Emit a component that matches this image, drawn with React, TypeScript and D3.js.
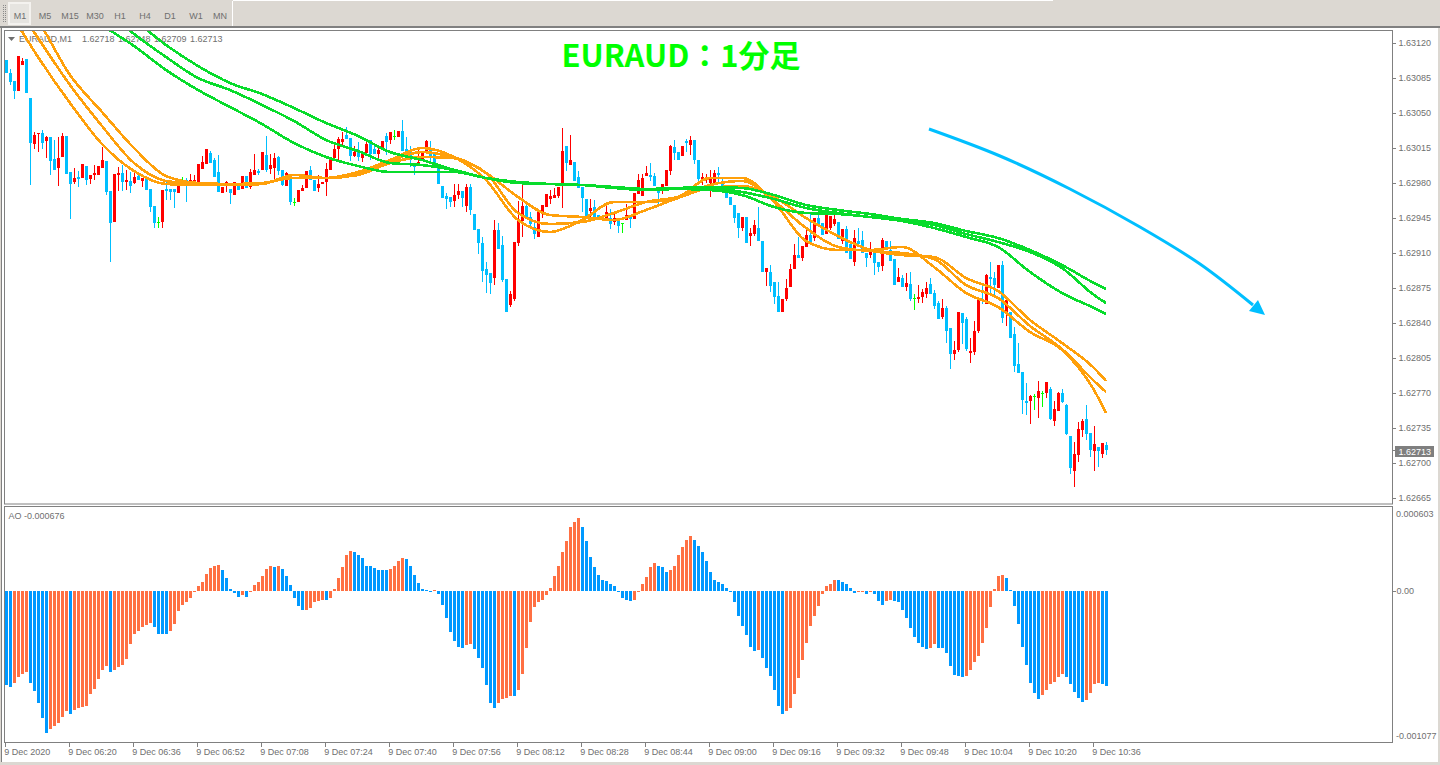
import React from "react";
import * as d3 from "d3";

// Prices are stored in points above 1.62000 (1 point = 0.00001)
const BASE = 1.62;
const POINT = 0.00001;

// [open, high, low, close] for each one-minute bar
const candles: number[][] = [
[1103,1103,1090,1090],[1090,1094,1078,1081],[1082,1082,1064,1072],[1072,1107,1072,1107],[1098,1105,1098,1102],[1104,1104,1070,1070],[1065,1065,978,1020],[1019,1031,1014,1028],
[1029,1030,1011,1030],[1030,1033,1014,1020],[1022,1027,1005,1026],[1026,1026,988,1002],[1004,1023,993,993],[995,1026,977,1005],[1006,1030,1006,1027],[1027,1027,989,989],
[991,991,944,979],[981,995,979,985],[986,992,976,984],[985,999,985,999],[997,997,978,983],[984,988,979,988],[988,998,983,990],[988,997,988,997],
[995,1016,995,1003],[1002,1002,968,971],[972,972,901,940],[941,989,941,989],[988,996,972,990],[990,998,972,981],[981,993,973,983],[982,991,970,977],
[980,991,979,986],[987,990,983,983],[982,985,976,985],[986,986,973,973],[974,974,951,956],[957,957,935,940],[941,946,935,941],[941,973,935,973],
[974,983,963,972],[974,974,963,971],[974,974,955,971],[970,983,970,979],[981,986,978,981],[983,985,961,979],[979,989,979,983],[979,988,979,983],
[981,999,981,999],[994,1007,994,1001],[999,1014,999,1014],[1010,1012,1000,1000],[1003,1005,986,986],[991,1008,971,971],[970,976,970,976],[978,982,971,981],
[974,974,959,970],[968,981,968,981],[979,979,973,973],[974,987,974,987],[987,987,975,975],[976,994,974,991],[988,1009,988,993],[992,994,988,990],
[993,1011,993,1011],[1008,1027,991,993],[994,1009,989,998],[995,1010,983,1005],[1006,1007,988,992],[993,993,977,978],[977,991,977,990],[988,988,958,961],
[961,965,957,961],[961,973,961,973],[972,978,972,975],[975,992,975,992],[993,997,983,983],[983,983,972,972],[975,988,971,979],[979,981,979,981],
[981,1000,967,994],[993,1005,993,1005],[1005,1018,1005,1014],[1014,1026,1003,1024],[1021,1031,1018,1024],[1028,1036,1024,1024],[1025,1025,1002,1007],[1007,1017,1006,1011],
[1013,1021,1002,1006],[1005,1011,1001,1011],[1010,1022,1010,1019],[1023,1023,1003,1009],[1014,1020,1009,1009],[1009,1015,1005,1013],[1015,1022,1015,1022],[1027,1030,1008,1021],
[1023,1031,1019,1031],[1027,1033,1023,1027],[1026,1032,1026,1032],[1032,1043,1012,1012],[1014,1026,1004,1010],[1013,1017,996,1003],[999,999,988,996],[999,1013,999,1001],
[1004,1012,1004,1012],[1012,1023,1012,1022],[1013,1022,1000,1006],[1009,1009,995,995],[998,998,979,979],[977,977,965,965],[967,970,954,964],[966,966,956,961],
[962,979,956,968],[968,979,964,972],[972,972,956,965],[957,979,951,976],[976,979,948,953],[949,949,933,933],[934,934,909,920],[920,926,881,892],
[894,901,870,888],[890,890,869,880],[885,943,878,933],[933,940,914,914],[918,927,881,883],[884,884,851,851],[858,872,856,869],[864,921,862,921],
[920,962,917,942],[942,982,926,957],[957,960,946,946],[946,951,936,939],[936,940,924,929],[926,951,926,951],[951,958,945,958],[956,969,956,969],
[964,973,959,967],[965,975,965,968],[967,976,965,976],[979,1035,955,1012],[1017,1017,992,1000],[998,1028,998,1003],[1001,1001,982,982],[986,992,975,975],
[976,976,951,965],[964,964,945,945],[952,964,943,955],[956,963,946,946],[948,948,944,944],[944,947,944,947],[944,960,942,951],[945,954,934,939],
[941,952,938,945],[943,943,930,937],[940,940,930,940],[943,959,943,948],[947,947,935,944],[944,970,944,970],[969,989,969,983],[967,989,967,985],
[987,997,987,990],[988,1000,982,986],[987,990,977,977],[973,975,959,970],[975,979,969,979],[977,993,977,993],[992,1018,988,1017],[1016,1023,1003,1010],
[1011,1011,1003,1003],[1007,1017,1007,1017],[1022,1024,1011,1020],[1018,1027,1008,1023],[1023,1023,999,1003],[1003,1003,979,984],[984,990,978,986],[984,989,980,986],
[980,993,966,984],[980,993,980,990],[990,996,979,988],[980,985,971,971],[971,973,965,965],[966,966,958,958],[958,958,940,945],[950,950,925,935],
[935,946,932,946],[946,946,920,920],[927,935,917,930],[929,943,927,938],[935,956,922,922],[922,922,891,891],[891,895,877,895],[891,898,871,877],
[881,881,859,866],[867,881,851,851],[851,864,851,864],[864,884,862,875],[876,899,876,894],[894,919,894,908],[908,926,905,905],[905,917,902,917],
[916,933,916,928],[928,951,921,921],[925,945,922,945],[945,948,938,938],[940,940,928,928],[929,950,929,948],[935,947,933,947],[939,948,937,944],
[941,941,924,924],[922,934,919,934],[934,937,910,910],[919,919,904,904],[901,933,897,925],[922,935,917,919],[923,932,910,910],[910,910,896,905],
[908,921,905,911],[910,910,888,900],[901,901,891,896],[897,925,892,923],[922,922,913,913],[913,922,902,902],[904,904,878,878],[881,895,881,886],
[885,888,876,876],[876,890,872,880],[879,891,862,864],[865,869,853,865],[864,878,860,866],[866,874,860,871],[869,881,865,875],[879,885,869,869],
[870,873,854,857],[860,862,844,844],[846,864,844,855],[855,857,820,832],[835,835,794,809],[809,822,803,813],[813,851,811,851],[850,850,819,840],
[844,846,812,814],[810,825,800,812],[811,842,808,832],[832,864,830,864],[864,879,859,862],[859,889,859,888],[886,901,867,884],[885,891,866,878],
[875,898,875,898],[898,902,840,845],[849,864,837,863],[851,851,825,825],[829,836,791,797],[799,820,790,790],[791,791,749,763],[762,780,748,760],
[762,768,739,767],[767,769,753,767],[765,782,745,772],[770,772,756,770],[770,781,765,781],[774,776,743,744],[742,762,737,754],[752,771,752,770],
[770,774,760,761],[758,759,728,729],[727,727,689,695],[692,721,676,709],[708,741,701,734],[733,744,726,742],[744,758,723,729],[730,730,706,713],
[712,737,692,719],[716,716,696,712],[709,720,705,720],[718,721,708,713],
];

// Moving averages, read every 8 bars (in points above 1.62000)
const maBars = [0,8,16,24,32,40,48,56,64,72,80,88,96,104,112,120,128,136,144,152,160,168,176,184,192,200,208,216,224,232,240,248,256,264,272,275];
const orangeFast = [1158,1106,1060,1019,992,979,978,978,979,988,985,991,1003,1015,1006,983,943,931,943,961,961,966,985,985,961,922,913,913,916,896,870,856,831,813,773,750];
const orangeMid = [1173,1125,1078,1037,1000,982,979,979,980,985,985,989,1002,1011,1005,990,950,939,941,950,961,966,978,982,962,935,916,912,910,904,878,865,837,814,782,771];
const orangeSlow = [1188,1143,1088,1051,1015,987,980,979,980,985,985,988,1000,1006,1005,990,966,948,946,943,953,965,975,977,966,945,927,913,908,906,885,872,843,820,795,782];
const greenTop = [1223,1203,1188,1163,1143,1118,1097,1080,1069,1055,1040,1027,1011,1003,993,985,980,979,978,976,974,975,976,975,968,958,953,949,944,940,932,925,913,898,880,874];
const greenMid = [1213,1193,1175,1155,1129,1106,1085,1073,1058,1042,1023,1012,1000,998,993,985,981,979,978,976,974,974,975,971,964,955,950,946,943,938,929,921,911,895,868,860];
const greenLow = [1203,1183,1161,1138,1117,1093,1073,1056,1039,1020,1006,997,991,991,991,985,981,979,978,975,973,974,973,968,956,950,949,946,942,935,926,916,891,870,855,849];

// Awesome Oscillator, in millionths
const aoValues = [
-669,-683,-648,-612,-584,-570,-648,-705,-797,-904,-1004,-982,-954,-933,-890,-854,-869,-847,-826,-823,-812,-733,-691,-626,-562,-527,-570,-562,-534,-520,-484,-377,
-306,-278,-256,-235,-221,-256,-299,-300,-306,-278,-228,-142,-93,-78,-43,-7,36,71,128,164,185,192,150,93,21,-14,-36,-28,-36,-7,43,71,
107,157,185,178,185,157,107,43,-43,-100,-135,-134,-114,-78,-71,-57,-64,-43,21,93,178,263,285,278,263,235,185,185,164,150,150,150,
157,185,214,235,228,185,121,64,21,14,7,14,-21,-93,-192,-285,-349,-392,-399,-384,-377,-406,-470,-548,-669,-797,-826,-797,-762,-755,-747,-747,
-698,-584,-399,-214,-107,-78,-64,-28,28,107,185,278,363,456,498,520,456,363,249,178,114,85,78,57,36,7,-43,-57,-71,-57,7,57,
100,171,206,185,171,142,150,185,263,320,370,392,370,327,278,214,142,85,71,57,28,-7,-78,-171,-249,-313,-392,-420,-419,-470,-541,-605,
-698,-812,-869,-854,-826,-733,-619,-491,-370,-249,-171,-100,-21,36,57,85,85,71,57,28,-14,-7,7,-21,-7,-21,-71,-93,-71,-64,-71,-78,
-135,-192,-263,-327,-363,-392,-406,-399,-377,-399,-399,-441,-527,-591,-598,-612,-598,-562,-505,-456,-370,-263,-107,21,107,121,93,14,-100,-228,-392,-520,
-648,-719,-762,-740,-698,-655,-641,-612,-584,-612,-655,-712,-755,-783,-769,-719,-655,-648,-655,-676,
];

const priceTicks = [1.6312,1.63085,1.6305,1.63015,1.6298,1.62945,1.6291,1.62875,1.6284,1.62805,1.6277,1.62735,1.627,1.62665];
const timeLabels = ["9 Dec 2020","9 Dec 06:20","9 Dec 06:36","9 Dec 06:52","9 Dec 07:08","9 Dec 07:24","9 Dec 07:40","9 Dec 07:56","9 Dec 08:12","9 Dec 08:28","9 Dec 08:44","9 Dec 09:00","9 Dec 09:16","9 Dec 09:32","9 Dec 09:48","9 Dec 10:04","9 Dec 10:20","9 Dec 10:36"];
const periods = ["M1","M5","M15","M30","H1","H4","D1","W1","MN"];
const periodX = [20,45,70,95,120,145,170,196,220];
const headerTexts = ["EURAUD,M1","1.62718","1.62748","1.62709","1.62713"];
const headerX = [19,82,118,154,190];
const aoLabel = "AO -0.000676";
const lastPrice = 1.62713;
const arrowPath: [number, number][] = [[929,129],[1000,156],[1070,189],[1140,227],[1200,264],[1253,305]];

const W = 1440, H = 765;
const FONT = "'Liberation Sans', Arial, sans-serif";
const GREY = "#6f6f6f";
const FRAME = "#808080";
const BG = "#dcd8d2";
const UI = { fontFamily: FONT, fontSize: 9, fill: GREY } as const;

const x = d3.scaleLinear().domain([0, 275]).range([6, 1106]);
const yPrice = d3.scaleLinear().domain([1.627, 1.6312]).range([463, 43]);
const yPts = (p: number) => Math.round(yPrice(BASE + p * POINT));
const yAO = d3.scaleLinear().domain([-1077, 603]).range([742.8, 506.8]);
const maLine = d3.line<number>().x((_, i) => x(maBars[i])).y((v) => yPrice(BASE + v * POINT)).curve(d3.curveMonotoneX);
const arrowLine = d3.line().curve(d3.curveCatmullRom);

const candleColor = (c: number[]) => (c[0] === c[3] ? "#00ff00" : c[3] > c[0] ? "#ff0000" : "#00bfff");

export default function App() {
  const zero = 591;
  return (
    <svg width={W} height={H} viewBox={`0 0 ${W} ${H}`} style={{ position: "absolute", left: 0, top: 0, display: "block" }}>
      <defs>
        <clipPath id="main"><rect x={5} y={31} width={1388} height={473} /></clipPath>
      </defs>
      <rect width={W} height={H} fill={BG} />

      {/* toolbar */}
      <rect x={233} y={0} width={820} height={1} fill="#ffffff" />
      {[3, 5].map((gx) => d3.range(5, 23, 2).map((gy) => <rect key={`${gx}-${gy}`} x={gx} y={gy} width={1} height={1} fill="#8a8a8a" />))}
      <rect x={8} y={2} width={23} height={23} fill="#f4f2ef" />
      <rect x={10} y={4} width={19} height={19} fill="#e6e4e0" />
      {periods.map((p, i) => (
        <text key={p} x={periodX[i]} y={18.5} textAnchor="middle" fontFamily={FONT} fontSize={9} fill={GREY}>{p}</text>
      ))}
      <rect x={232} y={1} width={1} height={25} fill="#ffffff" />

      {/* panels */}
      <rect x={2} y={28} width={1436} height={734} fill="#fff" />
      <rect x={0} y={26} width={W} height={2} fill={FRAME} />
      <rect x={1} y={28} width={1} height={734} fill={FRAME} />
      <rect x={4.5} y={30.5} width={1388} height={473.5} fill="#fff" stroke={FRAME} />
      <rect x={4.5} y={506.5} width={1388} height={236} fill="#fff" stroke={FRAME} />

      {/* header labels sit under the averages */}
      <path d="M8 37 L15 37 L11.5 41 Z" fill={GREY} />
      {headerTexts.map((t, i) => <text key={t} x={headerX[i]} y={41.5} {...UI}>{t}</text>)}
      <text x={8.5} y={519} {...UI}>{aoLabel}</text>

      {/* candles */}
      <g clipPath="url(#main)" shapeRendering="crispEdges">
        {candles.map((c, i) => {
          const cx = Math.round(x(i));
          const top = yPts(Math.max(c[0], c[3]));
          const bottom = yPts(Math.min(c[0], c[3]));
          const col = candleColor(c);
          return (
            <g key={i} fill={col}>
              <rect x={cx} y={yPts(c[1])} width={1} height={Math.max(1, yPts(c[2]) - yPts(c[1]))} />
              <rect x={cx - 1} y={top} width={3} height={Math.max(1, bottom - top)} />
            </g>
          );
        })}
      </g>

      {/* averages */}
      <g clipPath="url(#main)" fill="none" strokeWidth={2.6} shapeRendering="crispEdges">
        {[orangeFast, orangeMid, orangeSlow].map((s, i) => <path key={i} d={maLine(s) ?? ""} stroke="#ffa00a" />)}
        {[greenTop, greenMid, greenLow].map((s, i) => <path key={i} d={maLine(s) ?? ""} stroke="#08dc2c" />)}
      </g>

      {/* price axis */}
      {priceTicks.map((p) => (
        <g key={p}>
          <rect x={1393} y={Math.round(yPrice(p))} width={3} height={1} fill={FRAME} />
          <text x={1398.5} y={Math.round(yPrice(p)) + 3} {...UI}>{p.toFixed(5)}</text>
        </g>
      ))}
      <rect x={1395} y={446} width={39} height={11} fill="#7f7f7f" />
      <rect x={1393} y={Math.round(yPrice(lastPrice))} width={3} height={1} fill="#7f7f7f" />
      <text x={1398.5} y={454.5} {...UI} fill="#ffffff">{lastPrice.toFixed(5)}</text>

      {/* AO */}
      <g shapeRendering="crispEdges">
        {aoValues.map((v, i) => {
          const rising = i > 0 && v > aoValues[i - 1];
          const yv = Math.round(yAO(v));
          const h = Math.abs(yv - zero);
          return <rect key={i} x={Math.round(x(i)) - 1} y={v >= 0 ? zero - h : zero} width={3} height={Math.max(1, h)} fill={rising ? "#ff7043" : "#0099ff"} />;
        })}
      </g>
      <text x={1396} y={517} {...UI}>0.000603</text>
      <text x={1396.5} y={594} {...UI}>0.00</text>
      <text x={1396} y={739} {...UI}>-0.001077</text>
      <rect x={1393} y={591} width={3} height={1} fill={FRAME} />

      {/* time axis */}
      {timeLabels.map((t, k) => {
        const tx = Math.round(x(k * 16)) - 1;
        return (
          <g key={t}>
            <rect x={tx} y={743} width={1} height={4} fill={FRAME} />
            <text x={tx - 0.7} y={755} {...UI}>{t}</text>
          </g>
        );
      })}

      {/* annotations */}
      <path d={arrowLine(arrowPath) ?? ""} fill="none" stroke="#00bfff" strokeWidth={3} />
      <path d="M1265 315 L1249 311 L1258 300 Z" fill="#00bfff" />
      <text x={681} y={67} textAnchor="middle" fontFamily="'Noto Sans CJK JP', sans-serif" fontWeight={700} fontSize={31} fill="#00ff00">EURAUD：1分足</text>
    </svg>
  );
}
